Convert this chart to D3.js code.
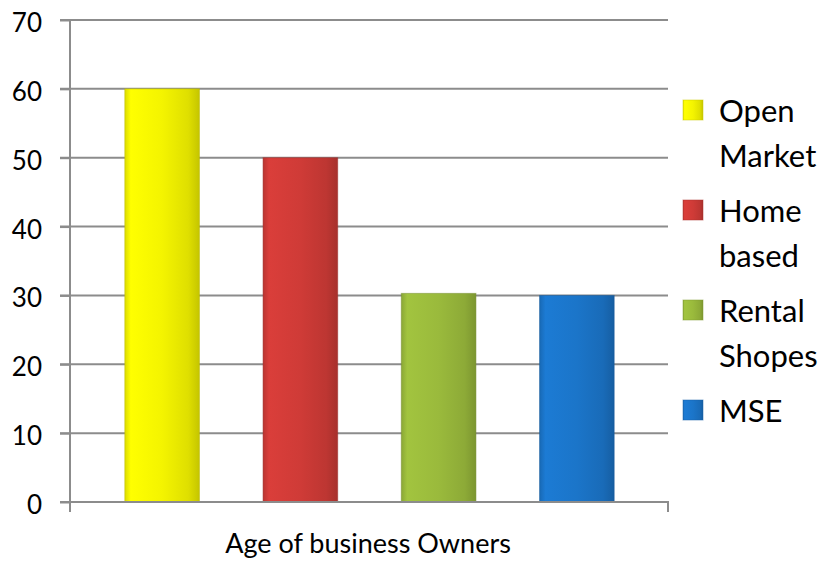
<!DOCTYPE html>
<html>
<head>
<meta charset="utf-8">
<script src="https://cdn.jsdelivr.net/npm/d3@7"></script>
<style>
  html, body { margin: 0; padding: 0; background: #fff; }
  svg { display: block; }
  text { font-family: Lato, "Open Sans", sans-serif; fill: #000; }
</style>
</head>
<body>
<svg id="chart"></svg>
<script>
// Data
const series = ["Open Market", "Home based", "Rental Shopes", "MSE"];
const values = [60, 50, 30.3, 30];
const legendLines = [["Open", "Market"], ["Home", "based"], ["Rental", "Shopes"], ["MSE"]];
const colors = ["#f4f400", "#cf3b37", "#9aba3c", "#1b75c9"];
const yTicks = [0, 10, 20, 30, 40, 50, 60, 70];
const categoryLabel = "Age of business Owners";

const W = 828, H = 564;
const plot = {left: 70, right: 668, top: 20, bottom: 502};

const svg = d3.select("#chart").attr("width", W).attr("height", H);

// gradients for the bevelled bar look
const defs = svg.append("defs");
colors.forEach((c, i) => {
    const g = defs.append("linearGradient")
        .attr("id", "grad" + i)
        .attr("x1", "0%").attr("x2", "100%").attr("y1", "0%").attr("y2", "0%");
    const base = d3.color(c);
    g.append("stop").attr("offset", "0%").attr("stop-color", base.darker(0.3));
    g.append("stop").attr("offset", "8%").attr("stop-color", base.brighter(0.15));
    g.append("stop").attr("offset", "50%").attr("stop-color", base);
    g.append("stop").attr("offset", "85%").attr("stop-color", base.darker(0.25));
    g.append("stop").attr("offset", "100%").attr("stop-color", base.darker(0.6));
});

const y = d3.scaleLinear()
    .domain([0, 70])
    .range([plot.bottom, plot.top]);

const x = d3.scaleBand()
    .domain(series)
    .range([93, 646])
    .paddingInner(0.46)
    .paddingOuter(0.23);

// gridlines
svg.append("g")
    .selectAll("line")
    .data(yTicks.filter(d => d > 0))
    .join("line")
    .attr("x1", plot.left - 10)
    .attr("x2", plot.right)
    .attr("y1", d => y(d))
    .attr("y2", d => y(d))
    .attr("stroke", "#8c8c8c")
    .attr("stroke-width", 2);

// y axis
const yAxis = d3.axisLeft(y)
    .tickValues(yTicks)
    .tickSize(10)
    .tickPadding(18);
const yg = svg.append("g")
    .attr("transform", `translate(${plot.left},0)`)
    .call(yAxis);
yg.select(".domain").attr("stroke", "#8c8c8c").attr("stroke-width", 2)
    .attr("d", `M0,${plot.top}V${plot.bottom + 10}`);
yg.selectAll(".tick line").attr("stroke", "#8c8c8c").attr("stroke-width", 2);
yg.selectAll(".tick text")
    .style("font-size", "26px")
    .style("font-family", "Lato, 'Open Sans', sans-serif")
    .attr("dy", "0.44em");

// bars
svg.append("g")
    .selectAll("rect")
    .data(series)
    .join("rect")
    .attr("x", d => x(d))
    .attr("width", x.bandwidth())
    .attr("y", (d, i) => y(values[i]))
    .attr("height", (d, i) => y(0) - y(values[i]))
    .attr("fill", (d, i) => `url(#grad${i})`)
    .attr("stroke", (d, i) => d3.color(colors[i]).darker(0.8))
    .attr("stroke-opacity", 0.5)
    .attr("stroke-width", 1);

// x axis
svg.append("line")
    .attr("x1", plot.left - 10).attr("x2", plot.right + 1)
    .attr("y1", y(0)).attr("y2", y(0))
    .attr("stroke", "#8c8c8c").attr("stroke-width", 2);
svg.append("line")
    .attr("x1", plot.right).attr("x2", plot.right)
    .attr("y1", y(0)).attr("y2", y(0) + 10)
    .attr("stroke", "#8c8c8c").attr("stroke-width", 2);

svg.append("text")
    .attr("x", 368)
    .attr("y", 553)
    .attr("text-anchor", "middle")
    .style("font-size", "27px")
    .text(categoryLabel);

// legend
const legendBase = [122, 222, 322, 422];
const legend = svg.append("g");
series.forEach((s, i) => {
    const c = d3.color(colors[i]);
    legend.append("rect")
        .attr("x", 683).attr("y", legendBase[i] - 22)
        .attr("width", 20).attr("height", 20)
        .attr("fill", `url(#grad${i})`)
        .attr("stroke", c.darker(0.5)).attr("stroke-opacity", 0.5);
    const t = legend.append("text")
        .attr("x", 719)
        .attr("y", legendBase[i])
        .style("font-size", "31px");
    legendLines[i].forEach((line, j) => {
        t.append("tspan")
            .attr("x", 719)
            .attr("dy", j === 0 ? 0 : 45)
            .text(line);
    });
});
</script>
</body>
</html>
